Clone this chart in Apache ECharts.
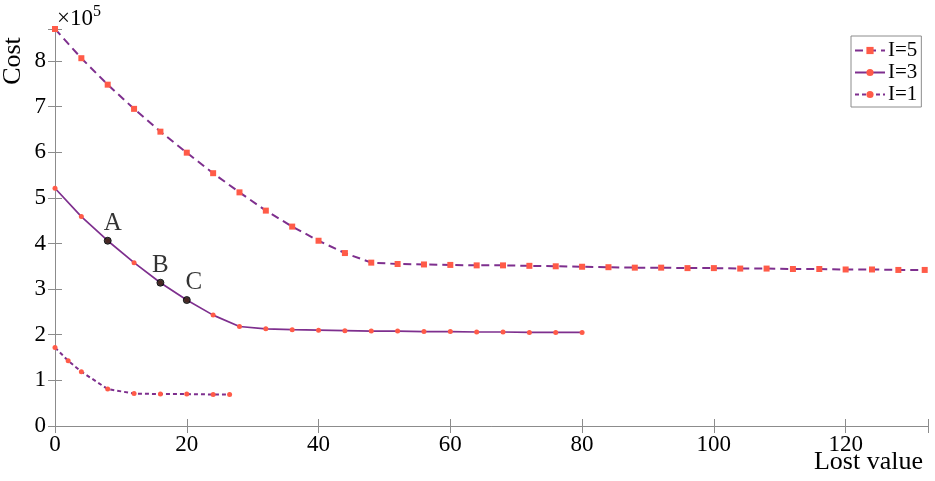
<!DOCTYPE html>
<html>
<head>
<meta charset="utf-8">
<script src="https://cdn.jsdelivr.net/npm/echarts@6/dist/echarts.min.js"></script>
<style>html,body{margin:0;padding:0;background:#fff;}#c{width:935px;height:481px;}</style>
</head>
<body>
<div id="c"></div>
<script>
// ---- data (cost in units of 1e5) ----
var xI5 = [0,4,8,12,16,20,24,28,32,36,40,44,48,52,56,60,64,68,72,76,80,84,88,92,96,100,104,108,112,116,120,124,128,132];
var yI5 = [8.70,8.06,7.48,6.95,6.45,5.99,5.54,5.12,4.72,4.37,4.06,3.79,3.58,3.55,3.54,3.53,3.52,3.52,3.51,3.50,3.49,3.48,3.47,3.47,3.46,3.46,3.45,3.45,3.44,3.44,3.43,3.43,3.42,3.42];
var xI3 = [0,4,8,12,16,20,24,28,32,36,40,44,48,52,56,60,64,68,72,76,80];
var yI3 = [5.21,4.59,4.06,3.58,3.14,2.76,2.43,2.18,2.13,2.11,2.10,2.09,2.08,2.08,2.07,2.07,2.06,2.06,2.05,2.05,2.05];
var xI1 = [0,2,4,8,12,16,20,24,26.5];
var yI1 = [1.72,1.43,1.19,0.81,0.71,0.70,0.70,0.69,0.69];
var markNames = ['A','B','C'];
var markX = [8,16,20];
var markY = [4.06,3.14,2.76];
var seriesNames = ['I=5','I=3','I=1'];

function pairs(xs, ys){ return xs.map(function(x,i){ return [x, ys[i]]; }); }

var LINE = '#7E2F8E';
var MARK = '#FF5B48';
var AXIS = '#8c8c8c';
var FONT = '"Liberation Serif", "Times New Roman", serif';

var chart = echarts.init(document.getElementById('c'), null, {renderer:'canvas'});
function intFmt(v){ return (Math.abs(v - Math.round(v)) < 1e-9) ? String(Math.round(v)) : ''; }

var tickStyle = {show: true, inside: true, length: 7, lineStyle: {color: AXIS, width: 1}};

var option = {
  animation: false,
  backgroundColor: '#fff',
  grid: {left: 55, right: 7, top: 29, bottom: 55, containLabel: false},
  xAxis: [{
    type: 'value', min: 0, max: 132.5, interval: 20,
    axisLine: {show: true, lineStyle: {color: AXIS, width: 1}},
    axisTick: tickStyle,
    axisLabel: {color: '#000', fontFamily: FONT, fontSize: 23, margin: 7, formatter: intFmt},
    splitLine: {show: false}
  }, {
    type: 'value', position: 'top', min: 0, max: 132.5, interval: 20,
    axisLine: {show: true, lineStyle: {color: AXIS, width: 1}},
    axisTick: tickStyle,
    axisLabel: {show: false}, splitLine: {show: false}
  }],
  yAxis: [{
    type: 'value', min: 0, max: 8.7, interval: 1,
    axisLine: {show: true, lineStyle: {color: AXIS, width: 1}},
    axisTick: tickStyle,
    axisLabel: {color: '#000', fontFamily: FONT, fontSize: 23, margin: 9, formatter: intFmt},
    splitLine: {show: false}
  }, {
    type: 'value', position: 'right', min: 0, max: 8.7, interval: 1,
    axisLine: {show: true, lineStyle: {color: AXIS, width: 1}},
    axisTick: tickStyle,
    axisLabel: {show: false}, splitLine: {show: false}
  }],
  legend: {
    data: seriesNames,
    orient: 'vertical',
    left: 851, top: 36,
    padding: [4, 4, 2, 3],
    itemGap: 1,
    itemWidth: 30, itemHeight: 9,
    backgroundColor: '#fff',
    borderColor: '#8c8c8c', borderWidth: 1,
    textStyle: {color: '#000', fontFamily: FONT, fontSize: 21, padding: [0,0,0,-2]}
  },
  graphic: [
    {type: 'text', x: 57, y: 4, style: {
      text: '{a|×10}{b|5}',
      rich: {a: {fontFamily: FONT, fontSize: 23, fill: '#000', verticalAlign: 'bottom', lineHeight: 26},
             b: {fontFamily: FONT, fontSize: 16, fill: '#000', verticalAlign: 'top', lineHeight: 26}}
    }},
    {type: 'text', x: 13, y: 61, rotation: Math.PI/2, style: {
      text: 'Cost', fontFamily: FONT, fontSize: 26, fill: '#000', align: 'center', verticalAlign: 'middle'
    }},
    {type: 'text', x: 923, y: 462, style: {
      text: 'Lost value', fontFamily: FONT, fontSize: 26, fill: '#000', align: 'right', verticalAlign: 'middle'
    }}
  ],
  series: [
    {name: seriesNames[0], type: 'line', data: pairs(xI5, yI5),
     symbol: 'rect', symbolSize: 6, showAllSymbol: true,
     lineStyle: {color: LINE, width: 2, type: [8, 5]},
     itemStyle: {color: MARK, borderColor: MARK, borderWidth: 0}, z: 3},
    {name: seriesNames[1], type: 'line', data: pairs(xI3, yI3),
     symbol: 'circle', symbolSize: 5, showAllSymbol: true,
     lineStyle: {color: LINE, width: 1.7, type: 'solid'},
     itemStyle: {color: MARK, borderWidth: 0}, z: 3},
    {name: seriesNames[2], type: 'line', data: pairs(xI1, yI1),
     symbol: 'circle', symbolSize: 5, showAllSymbol: true,
     lineStyle: {color: LINE, width: 2, type: [4, 3]},
     itemStyle: {color: MARK, borderWidth: 0}, z: 3},
    {name: 'points', type: 'scatter', z: 5,
     data: markX.map(function(x,i){
       var off = [[5,0],[0,0],[7,0]][i];
       return {value: [x, markY[i]], label: {formatter: markNames[i], offset: off}};
     }),
     symbol: 'circle', symbolSize: 7,
     itemStyle: {color: '#1a1a1a', borderColor: '#000', borderWidth: 1},
     label: {show: true, position: 'top', distance: 1, color: '#000', fontFamily: FONT, fontSize: 25,
             textBorderWidth: 0, textShadowBlur: 0}}
  ]
};
chart.setOption(option);
</script>
</body>
</html>
